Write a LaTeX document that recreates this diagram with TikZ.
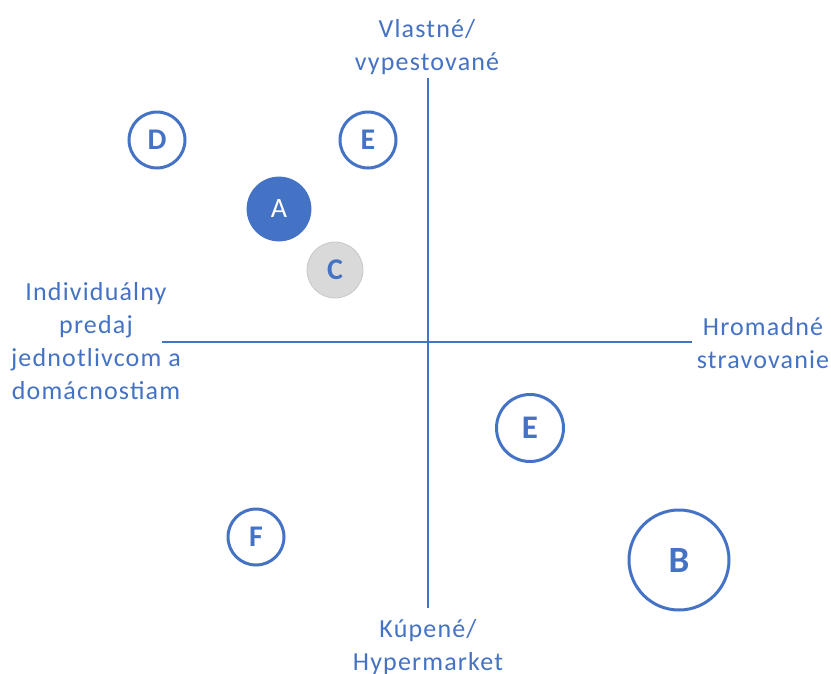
\documentclass[tikz,border=0pt]{standalone}
\usepackage{fontspec}
\setmainfont{Carlito}
\newfontfamily\spaced[LetterSpace=4.5]{Carlito}
\definecolor{cblue}{HTML}{4472C4}
\definecolor{cgray}{HTML}{D9D9D9}
\definecolor{cgrayedge}{HTML}{C8C8C8}
\begin{document}
\begin{tikzpicture}[x=1pt,y=-1pt,
  axis/.style={draw=cblue,line width=1.9pt},
  lbl/.style={text=cblue,align=center,inner sep=0pt,font=\spaced\fontsize{26}{33}\selectfont},
  ring/.style={circle,draw=cblue,line width=3pt,fill=white,text=cblue,inner sep=0pt,font=\fontsize{30}{34}\selectfont\bfseries},
  filled/.style={circle,draw=cblue,line width=0.8pt,fill=cblue,text=white,inner sep=0pt,font=\fontsize{28}{32}\selectfont},
  grayc/.style={circle,draw=cgrayedge,line width=0.8pt,fill=cgray,text=cblue,inner sep=0pt,font=\fontsize{30}{34}\selectfont\bfseries}]
\useasboundingbox (0,0) rectangle (831,673);
\coordinate (vt) at (428,78);
\coordinate (vb) at (428,608);
\coordinate (hl) at (162,342);
\coordinate (hr) at (692,342);
\draw[axis] (vt) -- (vb);
\draw[axis] (hl) -- (hr);
\node[lbl] (top) at (427,47) {Vlastné/\\vypestované};
\node[lbl] (left) at (96,341) {Individuálny\\predaj\\jednotlivcom a\\domácnostiam};
\node[lbl] (right) at (763,343) {Hromadné\\stravovanie};
\node[lbl] (bottom) at (428,647) {Kúpené/\\Hypermarket};
\node[ring,minimum size=56pt] (D) at (157,140) {D};
\node[ring,minimum size=56pt] (E1) at (368,140) {E};
\node[filled,minimum size=64pt] (A) at (279,209) {A};
\node[grayc,minimum size=56pt] (C) at (335,270) {C};
\node[ring,minimum size=67pt,font=\fontsize{33}{36}\selectfont\bfseries] (E2) at (530,428) {E};
\node[ring,minimum size=56pt] (F) at (256,537) {F};
\node[ring,minimum size=100pt,font=\fontsize{37}{40}\selectfont\bfseries] (B) at (679,560) {B};
\end{tikzpicture}
\end{document}
